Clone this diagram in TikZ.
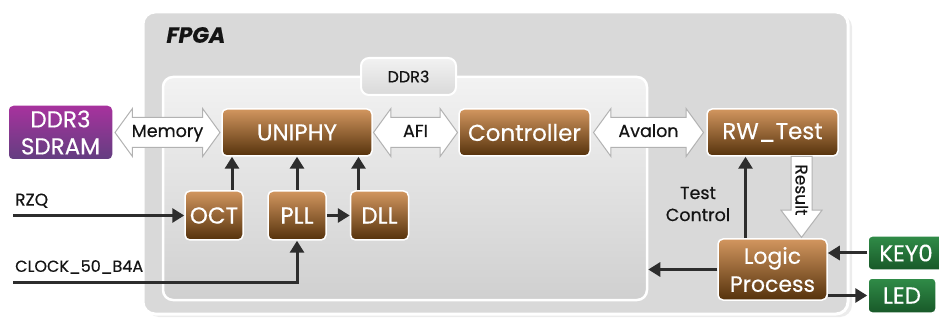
\documentclass[tikz,border=0pt]{standalone}
\usepackage{fontspec}
\setmainfont{Poppins}[FakeBold=0.4]
\usetikzlibrary{arrows.meta, positioning, calc, shapes.arrows, shadows}
\definecolor{brtop}{RGB}{210,150,95}
\definecolor{brbot}{RGB}{85,50,12}
\definecolor{pptop}{RGB}{168,50,158}
\definecolor{ppbot}{RGB}{98,62,128}
\definecolor{grtop}{RGB}{48,140,72}
\definecolor{grbot}{RGB}{24,88,40}
\definecolor{fpgafill}{RGB}{217,217,217}
\definecolor{wire}{RGB}{45,45,45}
\definecolor{inktxt}{RGB}{20,20,20}

\tikzset{
  blk/.style={draw=white, line width=1.5pt, rounded corners=5pt, text=white,
    font=\fontsize{23}{27}\selectfont, align=center, inner sep=0pt},
  brbox/.style={blk, top color=brtop, bottom color=brbot},
  ppbox/.style={blk, top color=pptop, bottom color=ppbot},
  grbox/.style={blk, top color=grtop, bottom color=grbot, rounded corners=4pt},
  wirearrow/.style={draw=wire, line width=3pt, -{Triangle[length=12pt,width=14pt]}},
  busarrow/.style={double arrow, draw=gray!60, fill=white, line width=1pt,
    inner xsep=0pt, inner ysep=8pt, text height=11pt, text depth=2pt,
    double arrow head extend=9pt, double arrow tip angle=108,
    text=inktxt, font=\fontsize{17.5}{20}\selectfont},
  sigtext/.style={font=\fontsize{16}{19}\selectfont, text=inktxt, inner sep=0pt},
}

\begin{document}
\begin{tikzpicture}[x=1pt, y=-1pt]
\useasboundingbox (0,0) rectangle (939,320);

% ---- FPGA frame ----
\node[draw=white, line width=3pt, rounded corners=12pt, fill=fpgafill,
  minimum width=705pt, minimum height=302pt,
  drop shadow={opacity=0.15, shadow xshift=4pt, shadow yshift=-3pt}] (fpga) at (495.5,163) {};
\node[anchor=west, font=\bfseries\itshape\fontsize{22}{26}\selectfont, text=inktxt] (fpgalbl) at (163,35) {FPGA};

% ---- DDR3 block ----
\node[draw=white, line width=2.5pt, rounded corners=10pt, top color=gray!10, bottom color=gray!37,
  minimum width=484pt, minimum height=223pt] (ddrbox) at (405,188.5) {};
\node[draw=white, line width=2pt, rounded corners=8pt, top color=gray!10, bottom color=gray!30,
  minimum width=95pt, minimum height=37pt, text=inktxt, font=\fontsize{16}{19}\selectfont] (ddrtab) at (408.5,76.5) {DDR3};

% ---- blocks ----
\node[ppbox, minimum width=105pt, minimum height=55pt] (sdram) at (60.5,132.5) {DDR3\\SDRAM};
\node[brbox, minimum width=150pt, minimum height=47pt] (uniphy) at (297,132.5) {UNIPHY};
\node[brbox, minimum width=131pt, minimum height=47pt] (ctrl) at (524.5,132.5) {Controller};
\node[brbox, minimum width=131pt, minimum height=47pt] (rwtest) at (772.5,132.5) {RW\_Test};
\node[brbox, minimum width=58pt, minimum height=49pt] (oct) at (214,215.5) {OCT};
\node[brbox, minimum width=58pt, minimum height=49pt] (pll) at (297,215.5) {PLL};
\node[brbox, minimum width=58pt, minimum height=49pt] (dll) at (379.5,215.5) {DLL};
\node[brbox, minimum width=109pt, minimum height=61pt, font=\fontsize{22}{28}\selectfont] (logic) at (772.5,269.5) {Logic\\Process};
\node[grbox, minimum width=76pt, minimum height=34pt] (key) at (906,253) {KEY0};
\node[grbox, minimum width=68pt, minimum height=35pt] (led) at (902,295.5) {LED};

% ---- bus arrows ----
\node[busarrow, minimum height=105pt] (membus) at ($(sdram.east)!0.5!(uniphy.west)$) {Memory};
\node[busarrow, minimum height=84pt] (afibus) at ($(uniphy.east)!0.5!(ctrl.west)$) {AFI};
\node[busarrow, minimum height=110pt] (avbus) at ($(ctrl.east)!0.5!(rwtest.west)$) {Avalon};

\coordinate (resx) at ($(rwtest.south)+(29,0)$);
\node[single arrow, rotate=-90, anchor=tip, draw=gray!60, fill=white, line width=1pt,
  minimum height=81pt, inner xsep=0pt, inner ysep=4pt, text height=12pt, text depth=0pt,
  single arrow head extend=10pt, single arrow tip angle=74,
  text=inktxt, font=\fontsize{17}{20}\selectfont] (result) at (resx |- logic.north) {Result};

% ---- inputs ----
\coordinate (rzqin) at (13,215.5);
\node[sigtext, anchor=south west, font=\fontsize{17}{19}\selectfont] (rzq) at (15,208) {RZQ};
\draw[wirearrow] (rzqin) -- (oct.west);
\coordinate (clkin) at (13,282);
\node[sigtext, anchor=south west] (clk) at (15,274) {CLOCK\_50\_B4A};
\draw[wirearrow] (clkin) -| (pll.south);
\draw[wirearrow] (pll.east) -- (dll.west);

% ---- into UNIPHY ----
\coordinate (octup) at ($(oct.north)+(18,0)$);
\draw[wirearrow] (octup) -- (octup |- uniphy.south);
\draw[wirearrow] (pll.north) -- (uniphy.south);
\coordinate (dllup) at ($(dll.north)+(-21,0)$);
\draw[wirearrow] (dllup) -- (dllup |- uniphy.south);

% ---- test logic ----
\coordinate (tcup) at ($(logic.north)+(-27,0)$);
\draw[wirearrow] (tcup) -- (tcup |- rwtest.south);
\node[font=\fontsize{17.5}{22}\selectfont, align=center, text=inktxt] (tclbl) at (698,204) {Test\\Control};
\draw[wirearrow] (logic.west) -- (logic.west -| ddrbox.east);
\draw[wirearrow] (key.west) -- (key.west -| logic.east);
\draw[wirearrow] (led.west -| logic.east) -- (led.west);
\end{tikzpicture}
\end{document}
